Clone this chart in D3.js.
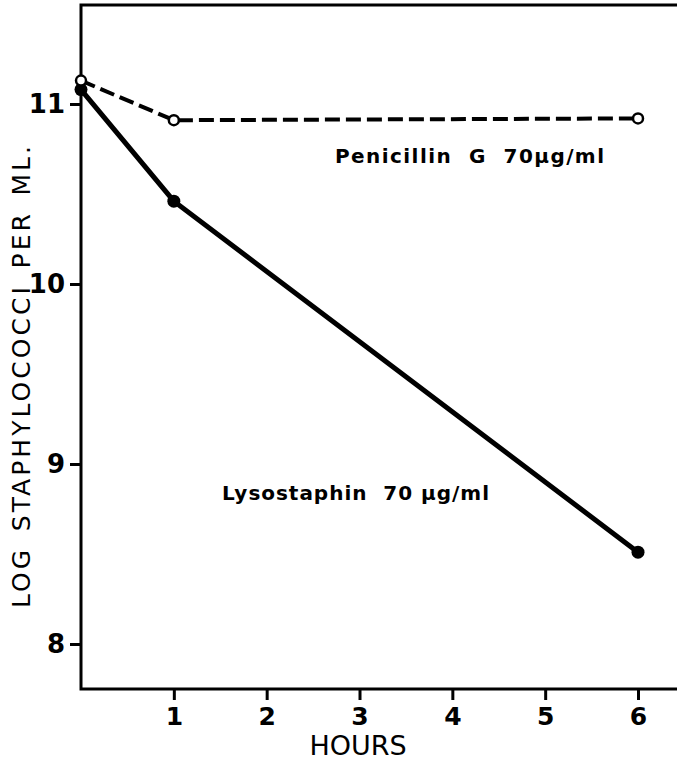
<!DOCTYPE html>
<html>
<head>
<meta charset="utf-8">
<script src="https://cdn.jsdelivr.net/npm/d3@7"></script>
<style>
  body { margin: 0; background: #fff; }
  text { font-family: "DejaVu Sans", sans-serif; fill: #000; white-space: pre; }
</style>
</head>
<body>
<svg width="677" height="763"></svg>
<script>
var hours = [0, 1, 6];
var penicillin = [11.13, 10.91, 10.92];
var lysostaphin = [11.08, 10.46, 8.51];
var xTicks = [1, 2, 3, 4, 5, 6];
var yTicks = [8, 9, 10, 11];

var svg = d3.select("svg"),
    width = +svg.attr("width"),
    height = +svg.attr("height");

var margin = {top: 5, right: 0, bottom: 74, left: 81};

var x = d3.scaleLinear()
    .domain([0, 6.42])
    .range([margin.left, width - margin.right]);

var y = d3.scaleLinear()
    .domain([7.75, 11.55])
    .range([height - margin.bottom, margin.top]);

// frame: left axis, bottom axis, top line (no right edge)
svg.append("path")
    .attr("d", "M" + x(6.42) + "," + y(11.55) + "H" + x(0) + "V" + y(7.75) + "H" + x(6.42))
    .attr("fill", "none")
    .attr("stroke", "#000")
    .attr("stroke-width", 3);

var xAxis = svg.append("g")
    .attr("transform", "translate(0," + y(7.75) + ")")
    .call(d3.axisBottom(x).tickValues(xTicks).tickSize(11).tickPadding(7).tickFormat(d3.format("d")));
xAxis.select(".domain").remove();
xAxis.selectAll("line").attr("stroke-width", 3);
xAxis.selectAll("text").style("font-size", "25px").style("font-weight", "600").style("font-family", "DejaVu Sans");

var yAxis = svg.append("g")
    .attr("transform", "translate(" + x(0) + ",0)")
    .call(d3.axisLeft(y).tickValues(yTicks).tickSize(11).tickPadding(5).tickFormat(d3.format("d")));
yAxis.select(".domain").remove();
yAxis.selectAll("line").attr("stroke-width", 3);
yAxis.selectAll("text").style("font-size", "26px").style("font-weight", "600").style("font-family", "DejaVu Sans");

var line = d3.line()
    .x(function(d) { return x(d[0]); })
    .y(function(d) { return y(d[1]); });

var penData = d3.zip(hours, penicillin);
var lysData = d3.zip(hours, lysostaphin);

svg.append("path")
    .datum(penData)
    .attr("d", line)
    .attr("fill", "none")
    .attr("stroke", "#000")
    .attr("stroke-width", 4)
    .attr("stroke-dasharray", "15,6");

svg.append("path")
    .datum(lysData)
    .attr("d", line)
    .attr("fill", "none")
    .attr("stroke", "#000")
    .attr("stroke-width", 5);

svg.selectAll(".lys")
    .data(lysData)
    .enter().append("circle")
      .attr("class", "lys")
      .attr("cx", function(d) { return x(d[0]); })
      .attr("cy", function(d) { return y(d[1]); })
      .attr("r", 6.5)
      .attr("fill", "#000");

svg.selectAll(".pen")
    .data(penData)
    .enter().append("circle")
      .attr("class", "pen")
      .attr("cx", function(d) { return x(d[0]); })
      .attr("cy", function(d) { return y(d[1]); })
      .attr("r", 5)
      .attr("fill", "#fff")
      .attr("stroke", "#000")
      .attr("stroke-width", 2.5);

svg.append("text")
    .attr("x", 335)
    .attr("y", 163)
    .attr("textLength", 270)
    .style("font-size", "20px")
    .style("font-weight", "bold")
    .style("letter-spacing", "1px")
    .text("Penicillin  G  70\u00b5g/ml");

svg.append("text")
    .attr("x", 222)
    .attr("y", 500)
    .attr("textLength", 268)
    .style("font-size", "20px")
    .style("font-weight", "bold")
    .style("letter-spacing", "1px")
    .text("Lysostaphin  70 \u00b5g/ml");

svg.append("text")
    .attr("x", 358)
    .attr("y", 755)
    .attr("text-anchor", "middle")
    .style("font-size", "27px")
    .text("HOURS");

svg.append("text")
    .attr("transform", "translate(30,377) rotate(-90)")
    .attr("text-anchor", "middle")
    .attr("textLength", 462)
    .style("font-size", "25px")
    .text("LOG\u2002STAPHYLOCOCCI\u2002PER\u2002ML.");
</script>
</body>
</html>
